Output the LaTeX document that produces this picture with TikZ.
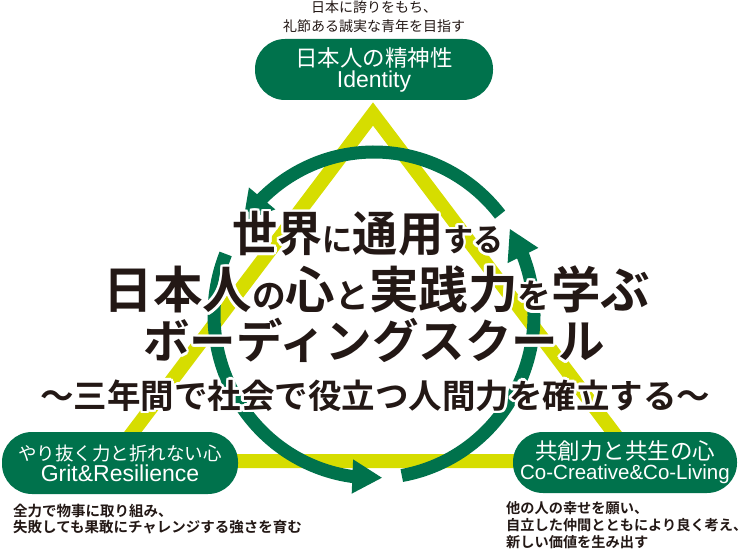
\documentclass[tikz,border=0pt]{standalone}
\usepackage{fontspec}
\usepackage{graphicx}
\usepackage{contour}
\usetikzlibrary{arrows.meta,bending}
\newfontfamily\jpfont{Noto Sans CJK JP}[BoldFont={Noto Sans CJK JP Bold}]
\newfontfamily\latinfont{Liberation Sans}
\definecolor{pinegreen}{RGB}{0,114,76}
\definecolor{limeline}{RGB}{214,221,0}
\definecolor{inkbrown}{RGB}{35,24,21}
\contourlength{2.5pt}
\tikzset{
  pill/.style={shape=rectangle,fill=pinegreen,rounded corners=30pt,text=white,align=center,inner sep=0pt},
  caption/.style={text=inkbrown,inner sep=0pt},
  motto/.style={text=inkbrown,inner sep=0pt,font=\jpfont\bfseries},
  cyclearrow/.style={draw=pinegreen,line width=13pt,-{Triangle[length=30pt,width=32pt,flex]}}
}
\begin{document}
\begin{tikzpicture}[x=1pt,y=1pt]
\useasboundingbox (0,0) rectangle (751,554);
\coordinate (apex) at (373,440);
\coordinate (leftcorner) at (111,93);
\coordinate (rightcorner) at (635,93);
\coordinate (hub) at (374,239);
\draw[limeline,line width=14pt,line join=miter] (apex) -- (leftcorner) -- (rightcorner) -- cycle;
\draw[cyclearrow] ([shift={(38:160 and 163)}]hub) arc[start angle=38,end angle=145,x radius=160pt,y radius=163pt];
\draw[cyclearrow] ([shift={(158:160 and 163)}]hub) arc[start angle=158,end angle=273,x radius=160pt,y radius=163pt];
\draw[cyclearrow] ([shift={(280:160 and 163)}]hub) arc[start angle=280,end angle=392,x radius=160pt,y radius=163pt];
% title
\node[motto] at (368,319) (motto1) {\contour{white}{\scalebox{0.94}[1]{\fontsize{48}{48}\selectfont 世界{\fontsize{32}{32}\selectfont に}通用{\fontsize{32}{32}\selectfont する}}}};
\node[motto] at (377,263) (motto2) {\contour{white}{\scalebox{0.99}[1]{\fontsize{50}{50}\selectfont 日本人{\fontsize{34}{34}\selectfont の}心{\fontsize{34}{34}\selectfont と}実践力{\fontsize{34}{34}\selectfont を}学ぶ}}};
\node[motto] at (374,212) (motto3) {\contour{white}{\fontsize{46.5}{46.5}\selectfont ボーディングスクール}};
\node[motto] at (375,157) (motto4) {\contour{white}{\fontsize{33.5}{33.5}\selectfont 〜三年間で社会で役立つ人間力を確立する〜}};
% three pillars
\node[pill,minimum width=238pt,minimum height=61pt] at (374,484.5) (identity)
  {{\jpfont\fontsize{22.5}{25}\selectfont 日本人の精神性}\\[1.5pt]{\latinfont\fontsize{23}{25}\selectfont Identity}};
\node[pill,minimum width=236pt,minimum height=62pt] at (120,91) (grit)
  {{\jpfont\fontsize{18.5}{25}\selectfont やり抜く力と折れない心}\\[1.5pt]{\latinfont\fontsize{23}{25}\selectfont Grit\&Resilience}};
\node[pill,minimum width=224pt,minimum height=61pt] at (625,91.5) (coliving)
  {{\jpfont\fontsize{22.5}{25}\selectfont 共創力と共生の心}\\[2pt]{\latinfont\fontsize{20.5}{25}\selectfont Co-Creative\&Co-Living}};
% captions
\node[caption,align=center,font=\jpfont\fontsize{14}{19}\selectfont] at (374,537) (identitynote)
  {日本に誇りをもち、\\礼節ある誠実な青年を目指す};
\node[caption,align=left,anchor=west,font=\jpfont\bfseries\fontsize{14.5}{16.5}\selectfont] at (13,35) (gritnote)
  {全力で物事に取り組み、\\失敗しても果敢にチャレンジする強さを育む};
\node[caption,align=left,anchor=west,font=\jpfont\bfseries\fontsize{14.2}{17}\selectfont] at (506,28.5) (colivingnote)
  {他の人の幸せを願い、\\自立した仲間とともにより良く考え、\\新しい価値を生み出す};
\end{tikzpicture}
\end{document}
